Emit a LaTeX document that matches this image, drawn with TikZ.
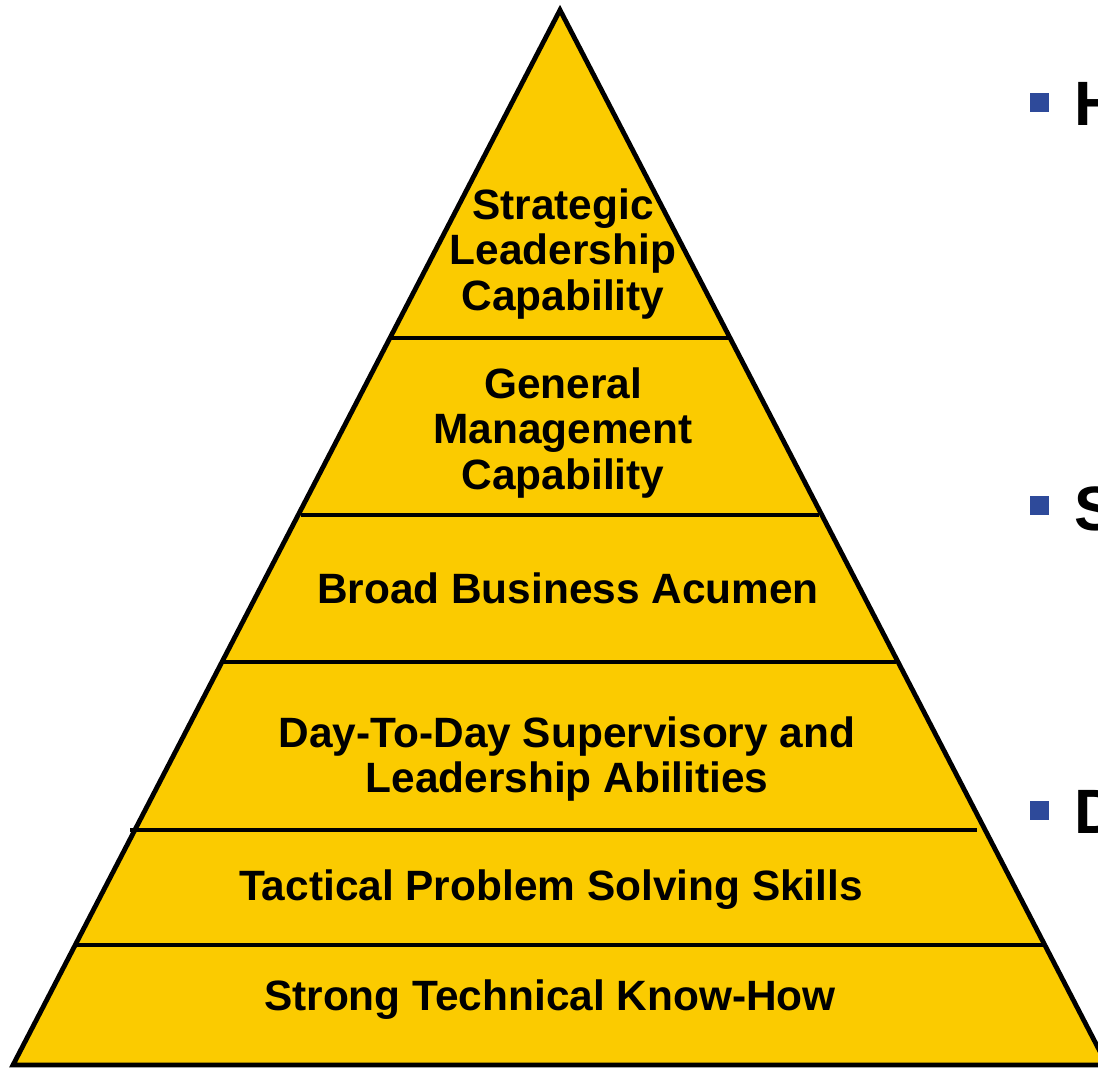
\documentclass[tikz,border=0pt]{standalone}
\usepackage{fontspec}
\setmainfont{Liberation Sans}
\definecolor{pyryellow}{HTML}{FBCB00}
\definecolor{bulletblue}{HTML}{2E4A9A}
\begin{document}
\begin{tikzpicture}[
    x=0.75pt,
    y=-0.75pt,
    edge/.style={line width=3.6pt},
    level/.style={
      align=center,
      font=\fontsize{31.8}{33.8}\selectfont\bfseries,
      inner sep=0pt
    },
    point/.style={fill=bulletblue, minimum size=14.2pt, inner sep=0pt},
    head/.style={anchor=base west, inner sep=0pt,
      font=\fontsize{47}{50}\selectfont\bfseries}
  ]
    \useasboundingbox (0, 0) rectangle (1098, 1068);

    % pyramid
    \coordinate (apex) at (560, 10);
    \coordinate (base_l) at (13, 1065);
    \coordinate (base_r) at (1107, 1065);
    \draw[edge, fill=pyryellow, line join=miter] (apex) -- (base_l) -- (base_r) -- cycle;

    % dividers
    \draw[edge] (390, 338) -- (730, 338);
    \draw[edge] (301, 515) -- (819, 515);
    \draw[edge] (224, 662) -- (896, 662);
    \draw[edge] (130, 830) -- (977, 830);
    \draw[edge] (75, 945) -- (1045, 945);

    % levels
    \node[level] (lv1) at (563, 254) {Strategic\\Leadership\\Capability};
    \node[level] (lv2) at (563, 433) {General\\Management\\Capability};
    \node[level] (lv3) at (568, 588) {Broad Business Acumen};
    \node[level] (lv4) at (567, 759) {Day-To-Day Supervisory and\\Leadership Abilities};
    \node[level] (lv5) at (551, 890) {Tactical Problem Solving Skills};
    \node[level] (lv6) at (550, 1000) {Strong Technical Know-How};

    % bullets
    \node[point] (pt1) at (1039.5, 102.5) {};
    \node[point] (pt2) at (1039.5, 505.5) {};
    \node[point] (pt3) at (1039.5, 810.5) {};
    \node[head] (hd1) at (1074, 125) {H};
    \node[head] (hd2) at (1074, 530) {S};
    \node[head] (hd3) at (1074, 833) {D};

  \end{tikzpicture}
\end{document}
